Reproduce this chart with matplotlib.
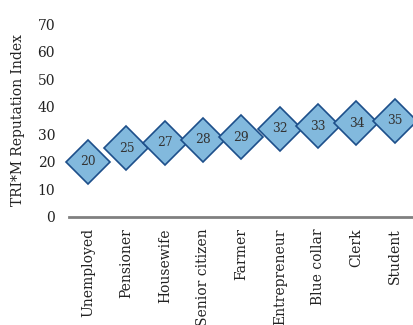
import matplotlib.pyplot as plt

# data
groups = ['Unemployed', 'Pensioner', 'Housewife', 'Senior citizen', 'Farmer',
          'Entrepreneur', 'Blue collar', 'Clerk', 'Student']
scores = [20, 25, 27, 28, 29, 32, 33, 34, 35]

plt.rcParams['font.family'] = ['DejaVu Serif']

fig = plt.figure(figsize=(4.14, 3.25), dpi=100)
ax = fig.add_axes([69 / 414, 1 - 217 / 325, 1 - 69 / 414, (217 - 24) / 325])

x = list(range(len(groups)))
ax.plot(x, scores, linestyle='none', marker='D', markersize=22,
        markerfacecolor='#82b9dd', markeredgecolor='#1d4f8a', markeredgewidth=1.2,
        clip_on=False)
for xi, v in zip(x, scores):
    ax.text(xi, v, str(v), ha='center', va='center', fontsize=8.8, color='#333333')

ax.set_xlim(-0.5, len(groups) - 0.5)
ax.set_ylim(0, 70)
ax.set_yticks(range(0, 71, 10))
ax.set_xticks(x)
ax.set_xticklabels(groups, rotation=90, fontsize=10, color='#222222')
ax.tick_params(axis='y', length=0, labelsize=10, labelcolor='#222222', pad=10)
ax.tick_params(axis='x', length=0, pad=8)
ax.set_ylabel('TRI*M Reputation Index', fontsize=10, color='#222222', labelpad=9)

for s in ['top', 'right', 'left']:
    ax.spines[s].set_visible(False)
ax.spines['bottom'].set_color('#808080')
ax.spines['bottom'].set_linewidth(2)

fig.savefig('out.png', dpi=100)
